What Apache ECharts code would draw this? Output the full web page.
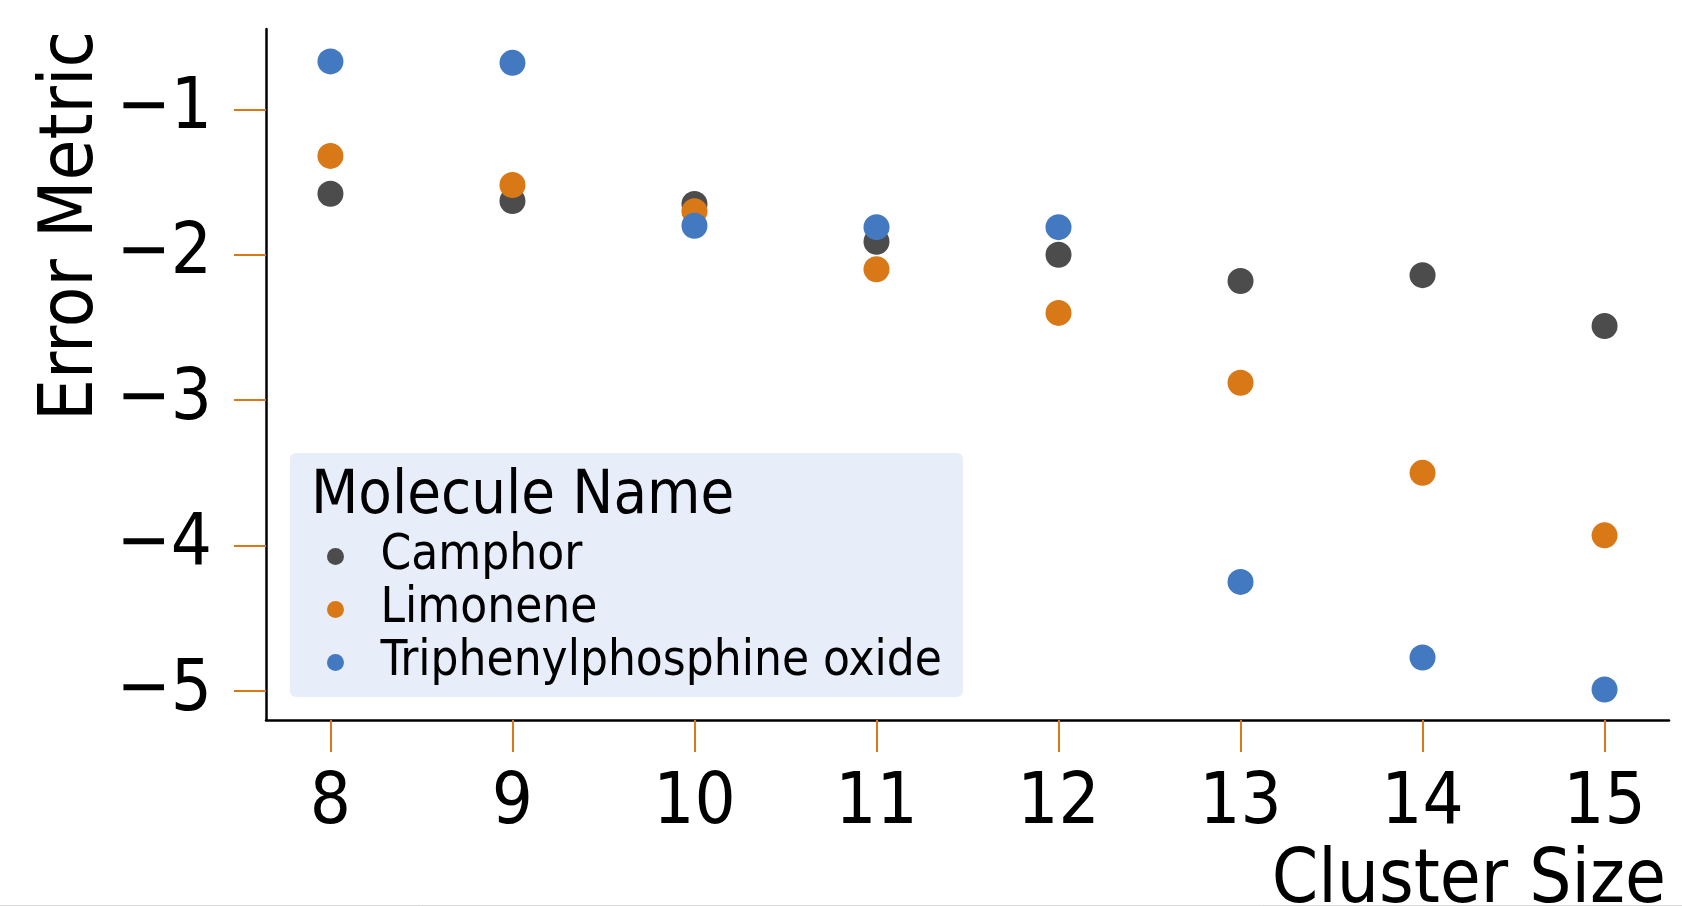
<!DOCTYPE html>
<html>
<head>
<meta charset="utf-8">
<script src="https://cdn.jsdelivr.net/npm/echarts@6/dist/echarts.min.js"></script>
<style>
html,body{margin:0;padding:0;background:#fff;}
#chart{width:1682px;height:906px;}
</style>
</head>
<body>
<div id="chart"></div>
<script>
const clusterSizes = [8, 9, 10, 11, 12, 13, 14, 15];
const camphor = [-1.58, -1.63, -1.65, -1.91, -2.00, -2.18, -2.14, -2.49];
const limonene = [-1.32, -1.52, -1.70, -2.10, -2.40, -2.88, -3.50, -3.93];
const tpo = [-0.67, -0.68, -1.80, -1.81, -1.81, -4.25, -4.77, -4.99];
const seriesNames = ['Camphor', 'Limonene', 'Triphenylphosphine oxide'];
const xTicks = [8, 9, 10, 11, 12, 13, 14, 15];
const yTicks = [-5, -4, -3, -2, -1];

const colors = ['#4c4c4c', '#d97817', '#4279c0'];
const FONT = "'DejaVu Sans Condensed', 'DejaVu Sans', sans-serif";

function pairs(ys){ return clusterSizes.map((x,i)=>[x, ys[i]]); }
function fmt(v){ return v < 0 ? '\u2212' + Math.abs(v) : String(v); }

const chart = echarts.init(document.getElementById('chart'), null, {renderer:'canvas'});
const option = {
  animation: false,
  backgroundColor: '#ffffff',
  grid: {left: 266, right: 13, top: 29, bottom: 186, containLabel: false},
  xAxis: {
    type: 'value', min: 7.646, max: 15.354,
    splitLine: {show: false},
    axisLine: {show: true, onZero: false, lineStyle: {color: '#000', width: 2.5}},
    axisTick: {show: true, customValues: xTicks, length: 32, lineStyle: {color: '#d97817', width: 2}},
    axisLabel: {customValues: xTicks, formatter: fmt, margin: 48, color: '#000', fontSize: 72, fontFamily: FONT}
  },
  yAxis: {
    type: 'value', min: -5.2, max: -0.447,
    splitLine: {show: false},
    axisLine: {show: true, onZero: false, lineStyle: {color: '#000', width: 2.5}},
    axisTick: {show: true, customValues: yTicks, length: 32, lineStyle: {color: '#d97817', width: 2}},
    axisLabel: {customValues: yTicks, formatter: fmt, margin: 54, color: '#000', fontSize: 72, fontFamily: FONT}
  },
  legend: {
    show: true,
    orient: 'vertical',
    left: 322, top: 527,
    itemWidth: 80, itemHeight: 17, itemGap: 4,
    icon: 'circle',
    data: seriesNames,
    textStyle: {fontSize: 49, lineHeight: 48, fontFamily: FONT, color: '#000'},
    z: 10
  },
  graphic: [
    {type: 'rect', z: 1, shape: {x: 290, y: 453, width: 673, height: 244, r: 6}, style: {fill: '#e7eef9'}},
    {type: 'text', z: 2, x: 311, y: 497, style: {text: 'Molecule Name', fontSize: 61, fontFamily: FONT, fill: '#000', textAlign: 'left', textVerticalAlign: 'middle'}},
    {type: 'text', z: 2, x: 73, y: 31, rotation: Math.PI/2, style: {text: 'Error Metric', fontSize: 74, fontFamily: FONT, fill: '#000', textAlign: 'right', textVerticalAlign: 'middle'}},
    {type: 'text', z: 2, x: 1666, y: 883, style: {text: 'Cluster Size', fontSize: 74, fontFamily: FONT, fill: '#000', textAlign: 'right', textVerticalAlign: 'middle'}},
    {type: 'line', z: 3, shape: {x1: 0, y1: 905.5, x2: 1682, y2: 905.5}, style: {stroke: '#d9d9d9', lineWidth: 1}}
  ],
  series: [
    {name: seriesNames[0], type: 'scatter', data: pairs(camphor), symbolSize: 26, itemStyle: {color: colors[0], opacity: 1}, z: 3},
    {name: seriesNames[1], type: 'scatter', data: pairs(limonene), symbolSize: 26, itemStyle: {color: colors[1], opacity: 1}, z: 4},
    {name: seriesNames[2], type: 'scatter', data: pairs(tpo), symbolSize: 26, itemStyle: {color: colors[2], opacity: 1}, z: 5}
  ]
};
chart.setOption(option);
</script>
</body>
</html>
